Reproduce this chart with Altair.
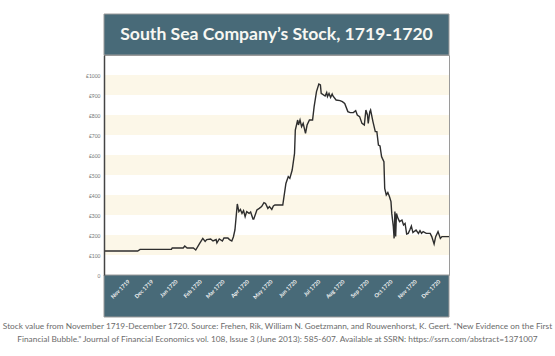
import altair as alt
import pandas as pd

# ---- data ----
dates = [
    "1719-10-01", "1719-11-13", "1719-11-16", "1719-12-26", "1719-12-27",
    "1720-01-10", "1720-01-12", "1720-01-15", "1720-01-23", "1720-01-26",
    "1720-01-31", "1720-02-04", "1720-02-07", "1720-02-09", "1720-02-14",
    "1720-02-17", "1720-02-21", "1720-02-22", "1720-02-25", "1720-02-29",
    "1720-03-02", "1720-03-07", "1720-03-09", "1720-03-12", "1720-03-14",
    "1720-03-16", "1720-03-19", "1720-03-21", "1720-03-23", "1720-03-25",
    "1720-03-27", "1720-03-29", "1720-03-31", "1720-04-03", "1720-04-05",
    "1720-04-08", "1720-04-09", "1720-04-13", "1720-04-16", "1720-04-19",
    "1720-04-22", "1720-04-24", "1720-04-27", "1720-04-29", "1720-05-02",
    "1720-05-04", "1720-05-06", "1720-05-16", "1720-05-20", "1720-05-23",
    "1720-05-25", "1720-05-28", "1720-05-31", "1720-06-01", "1720-06-04",
    "1720-06-05", "1720-06-07", "1720-06-09", "1720-06-11", "1720-06-14",
    "1720-06-16", "1720-06-19", "1720-06-23", "1720-06-25", "1720-06-28",
    "1720-07-01", "1720-07-03", "1720-07-04", "1720-07-09", "1720-07-11",
    "1720-07-12", "1720-07-14", "1720-07-16", "1720-07-18", "1720-07-19",
    "1720-07-23", "1720-07-28", "1720-07-31", "1720-08-03", "1720-08-07",
    "1720-08-10", "1720-08-14", "1720-08-17", "1720-08-19", "1720-08-22",
    "1720-08-25", "1720-08-28", "1720-08-30", "1720-09-01", "1720-09-02",
    "1720-09-04", "1720-09-05", "1720-09-08", "1720-09-11", "1720-09-13",
    "1720-09-15", "1720-09-17", "1720-09-19", "1720-09-20", "1720-09-22",
    "1720-09-23", "1720-09-25", "1720-09-27", "1720-09-29", "1720-10-01",
    "1720-10-02", "1720-10-04", "1720-10-05", "1720-10-06", "1720-10-07",
    "1720-10-08", "1720-10-10", "1720-10-12", "1720-10-15", "1720-10-17",
    "1720-10-19", "1720-10-21", "1720-10-23", "1720-10-25", "1720-10-27",
    "1720-10-29", "1720-11-02", "1720-11-05", "1720-11-07", "1720-11-09",
    "1720-11-11", "1720-11-15", "1720-11-20", "1720-11-22", "1720-11-25",
    "1720-11-27", "1720-11-30", "1720-12-03", "1720-12-05", "1720-12-14",
]
prices = [
    120, 120, 128, 128, 135,
    135, 145, 135, 135, 125,
    158, 183, 168, 177, 180,
    170, 177, 160, 180, 170,
    185, 185, 177, 170, 190,
    225, 355, 317, 328, 308,
    322, 292, 317, 308, 315,
    280, 280, 325, 333, 342,
    362, 358, 333, 342, 328,
    345, 350, 350, 458, 492,
    483, 525, 608, 725, 775,
    750, 775, 742, 758, 708,
    750, 775, 775, 842, 917,
    955, 950, 908, 895, 912,
    892, 908, 888, 905, 895,
    875, 872, 867, 858, 817,
    812, 812, 822, 800, 792,
    758, 750, 825, 800, 758,
    817, 825, 767, 717, 717,
    650, 645, 592, 583, 567,
    433, 400, 412, 392, 367,
    308, 242, 183, 317, 192,
    308, 283, 267, 275, 250,
    258, 205, 208, 225, 245,
    212, 225, 208, 222, 208,
    217, 208, 208, 192, 155,
    192, 217, 183, 192, 192,
]
band_lo = [100, 300, 500, 700, 900]
band_hi = [200, 400, 600, 800, 1000]
y_ticks = [0, 100, 200, 300, 400, 500, 600, 700, 800, 900, 1000]
month_ticks = [
    (1719, 11), (1719, 12), (1720, 1), (1720, 2), (1720, 3), (1720, 4), (1720, 5),
    (1720, 6), (1720, 7), (1720, 8), (1720, 9), (1720, 10), (1720, 11), (1720, 12),
]
title_text = ["South Sea Company\u2019s Stock, 1719-1720"]
caption_text = [
    "Stock value from November 1719-December 1720. Source: Frehen, Rik, William N. Goetzmann, "
    "and Rouwenhorst, K. Geert. \u201cNew Evidence on the First\n"
    "Financial Bubble.\u201d Journal of Financial Economics vol. 108, Issue 3 (June 2013): "
    "585-607. Available at SSRN: https://ssrn.com/abstract=1371007"
]

# ---- layout / style ----
W, H = 345, 220
TEAL = "#486a78"
CREAM = "#fcf7e8"
BORDER = "#9a9a9a"
FONT = "Lato"

df = pd.DataFrame({"date": dates, "price": prices})
bands = pd.DataFrame({"lo": band_lo, "hi": band_hi})
one = pd.DataFrame({"k": [0]})
title_df = pd.DataFrame({"t": title_text})
cap_df = pd.DataFrame({"t": caption_text})

y_scale = alt.Scale(domain=[0, 1100], nice=False, zero=True)
x_scale = alt.Scale(
    type="utc",
    domain=[alt.DateTime(year=1719, month=10, date=1, utc=True),
            alt.DateTime(year=1720, month=12, date=14, utc=True)],
)

y_axis = alt.Axis(
    values=y_ticks,
    labelExpr="datum.value == 0 ? '0' : '\u00a3' + datum.value",
    grid=False, ticks=False, domain=True, domainColor="#444444", domainWidth=1.5,
    labelFontSize=5, labelColor="#777777", labelPadding=4, labelFont=FONT,
    title=None, zindex=2,
)
x_axis = alt.Axis(
    values=[alt.DateTime(year=y, month=m, date=1, utc=True) for y, m in month_ticks],
    labelExpr="utcFormat(datum.value, '%b %Y')",
    labelAngle=-45, labelAlign="right", labelBaseline="middle",
    labelPadding=5, labelFontSize=5.5, labelColor="#f2f2f2", labelFont=FONT,
    labelFontWeight="bold", labelOverlap=False,
    grid=False, ticks=False, domain=False, title=None, zindex=2,
)

band_layer = alt.Chart(bands).mark_rect(color=CREAM).encode(
    x=alt.value(0), x2=alt.value(W),
    y=alt.Y("lo:Q", scale=y_scale, axis=y_axis),
    y2="hi:Q",
)

bottom_band = alt.Chart(one).mark_rect(color=TEAL, stroke=BORDER, strokeWidth=1).encode(
    x=alt.value(0), x2=alt.value(W), y=alt.value(H), y2=alt.value(H + 42),
)
top_band = alt.Chart(one).mark_rect(color=TEAL, stroke=BORDER, strokeWidth=1).encode(
    x=alt.value(0), x2=alt.value(W), y=alt.value(-41), y2=alt.value(0),
)

line = alt.Chart(df).mark_line(color="#2e2e2e", strokeWidth=1.4).encode(
    x=alt.X("date:T", scale=x_scale, axis=x_axis),
    y=alt.Y("price:Q", scale=y_scale, axis=y_axis),
)

title = alt.Chart(title_df).mark_text(
    font=FONT, fontWeight="bold", fontSize=17.6, color="#f7f7f2",
    align="center", baseline="middle",
).encode(x=alt.value(W / 2), y=alt.value(-20.5), text="t:N")

caption = alt.Chart(cap_df).mark_text(
    font=FONT, fontSize=8.3, color="#6b6b6b", align="center", baseline="top",
    lineBreak="\n", lineHeight=13,
).encode(x=alt.value(173.5), y=alt.value(267), text="t:N")

chart = alt.layer(band_layer, bottom_band, top_band, line, title, caption).properties(
    width=W, height=H,
    autosize=alt.AutoSizeParams(type="none"),
    padding={"left": 104, "top": 55, "right": 106, "bottom": 81},
    background="white",
).configure_view(stroke=BORDER, strokeWidth=1)

chart.save("out.html", embed_options={"renderer": "svg", "actions": False})
